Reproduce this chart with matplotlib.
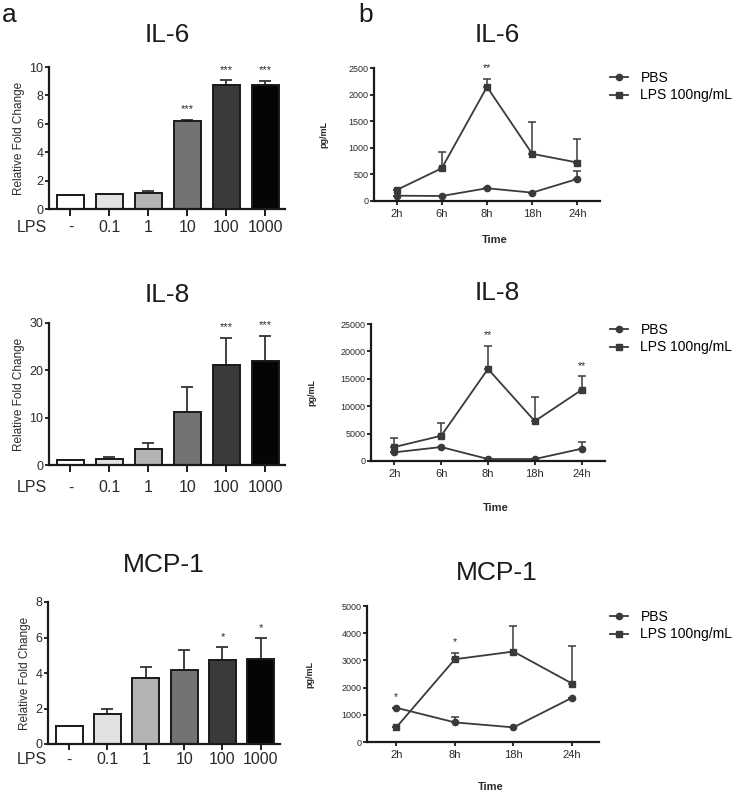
import numpy as np
import matplotlib
matplotlib.use("Agg")
import matplotlib.pyplot as plt
from matplotlib.lines import Line2D
from matplotlib.transforms import blended_transform_factory

plt.rcParams["font.family"] = ["Liberation Sans", "DejaVu Sans"]

W, H = 745, 793

# panel a: relative fold change vs LPS dose
doses = ["-", "0.1", "1", "10", "100", "1000"]
bar_colors = ["#ffffff", "#e2e2e2", "#b4b4b4", "#737373", "#3a3a3a", "#050505"]

il6_fold = [1.0, 1.05, 1.1, 6.2, 8.7, 8.7]
il6_fold_err = [0.0, 0.02, 0.2, 0.05, 0.35, 0.3]
il6_stars = ["", "", "", "***", "***", "***"]

il8_fold = [1.0, 1.3, 3.3, 11.2, 21.2, 22.0]
il8_fold_err = [0.0, 0.35, 1.3, 5.2, 5.6, 5.3]
il8_stars = ["", "", "", "", "***", "***"]

mcp1_fold = [1.0, 1.7, 3.7, 4.15, 4.75, 4.8]
mcp1_fold_err = [0.0, 0.3, 0.65, 1.15, 0.7, 1.15]
mcp1_stars = ["", "", "", "", "*", "*"]

# panel b: secreted protein over time
times5 = ["2h", "6h", "8h", "18h", "24h"]
times4 = ["2h", "8h", "18h", "24h"]

il6_pbs = [100, 94, 240, 157, 415]
il6_pbs_err = [0, 0, 0, 0, 150]
il6_lps = [207, 616, 2145, 887, 723]
il6_lps_err = [0, 310, 155, 600, 435]
il6_time_stars = ["", "", "**", "", ""]

il8_pbs = [1580, 2550, 360, 360, 2240]
il8_pbs_err = [0, 0, 0, 0, 1150]
il8_lps = [2550, 4600, 16800, 7270, 12970]
il8_lps_err = [1650, 2400, 4200, 4500, 2500]
il8_time_stars = ["", "", "**", "", "**"]

mcp1_pbs = [1259, 721, 538, 1626]
mcp1_pbs_err = [0, 185, 0, 0]
mcp1_lps = [538, 3044, 3325, 2150]
mcp1_lps_err = [0, 230, 930, 1370]
mcp1_time_stars = ["*", "*", "", ""]

fig = plt.figure(figsize=(W / 100, H / 100), dpi=100)
TXT = "#2a2a2a"
LINE = "#3a3a3a"


def px_axes(left, top, right, bottom):
    return fig.add_axes([left / W, 1 - bottom / H, (right - left) / W, (bottom - top) / H])


def style(ax, ysize):
    for s in ["top", "right"]:
        ax.spines[s].set_visible(False)
    for s in ["left", "bottom"]:
        ax.spines[s].set_linewidth(1.6)
        ax.spines[s].set_color("#1a1a1a")
    ax.tick_params(axis="y", labelsize=ysize, colors=TXT, width=1.4, length=3, pad=1)


def bar_panel(box, vals, errs, stars, ymax, step, title, title_y, lab_y, tick_len=5):
    ax = px_axes(*box)
    x = np.arange(len(doses))
    ax.bar(x, vals, width=0.7, color=bar_colors, edgecolor="#1a1a1a", linewidth=1.4, zorder=2)
    ax.errorbar(x, vals, yerr=[np.zeros(len(errs)), errs], fmt="none", ecolor="#333333",
                elinewidth=1.3, capsize=4, capthick=1.3, zorder=1)
    for xi, v, e, s in zip(x, vals, errs, stars):
        if s:
            ax.text(xi, v + e + ymax * 0.04, s, ha="center", va="bottom", fontsize=8, color=TXT)
    ax.set_xlim(-0.55, 5.5)
    ax.set_ylim(0, ymax)
    ax.set_yticks(np.arange(0, ymax + 0.1, step))
    ax.set_xticks(x)
    ax.set_xticklabels([])
    style(ax, 9)
    ax.tick_params(axis="x", width=1.4, length=tick_len, colors="#1a1a1a")
    ax.set_ylabel("Relative Fold Change", fontsize=8.5, color=TXT, labelpad=3)
    ly = -(lab_y - box[3]) / (box[3] - box[1])
    tr = blended_transform_factory(ax.transData, ax.transAxes)
    for xi, d in zip(x, doses):
        ax.text(xi, ly, d, transform=tr, ha="center", va="center", fontsize=11.5, color=TXT)
    ax.text((32 - box[0]) / (box[2] - box[0]), ly, "LPS",
            transform=ax.transAxes, ha="center", va="center", fontsize=11.5, color=TXT)
    fig.text((box[0] + box[2]) / 2 / W, 1 - title_y / H, title, ha="center", va="center",
             fontsize=19, color="#1a1a1a")
    return ax


def line_panel(box, labels, pbs, pbs_err, lps, lps_err, stars, ymax, step, title, title_y,
               xlim_hi, leg_y, ylabel_x, time_y):
    ax = px_axes(*box)
    x = np.arange(len(labels))
    ax.errorbar(x, pbs, yerr=[np.zeros(len(pbs)), pbs_err], color=LINE, lw=1.3,
                marker="o", ms=4.5, capsize=3, capthick=1.1, elinewidth=1.1)
    ax.errorbar(x, lps, yerr=[np.zeros(len(lps)), lps_err], color=LINE, lw=1.3,
                marker="s", ms=4.5, capsize=3, capthick=1.1, elinewidth=1.1)
    for xi, v1, e1, v2, e2, s in zip(x, pbs, pbs_err, lps, lps_err, stars):
        if s:
            top = max(v1 + e1, v2 + e2)
            ax.text(xi, top + ymax * 0.04, s, ha="center", va="bottom", fontsize=7.5, color=TXT)
    ax.set_xlim(-0.5, xlim_hi)
    ax.set_ylim(0, ymax)
    ax.set_yticks(np.arange(0, ymax + 1, step))
    ax.set_xticks(x)
    ax.set_xticklabels(labels)
    style(ax, 6.5)
    ax.tick_params(axis="x", labelsize=8, colors=TXT, width=1.4, length=3, pad=3)
    fig.text(ylabel_x / W, 1 - (box[1] + box[3]) / 2 / H, "pg/mL", rotation=90, ha="center",
             va="center", fontsize=6.5, fontweight="bold", color=TXT)
    fig.text((box[0] + box[2]) / 2 / W + 0.01, 1 - time_y / H, "Time", ha="center",
             va="center", fontsize=8, fontweight="bold", color=TXT)
    fig.text(497 / W, 1 - title_y / H, title, ha="center", va="center", fontsize=19,
             color="#1a1a1a")
    handles = [Line2D([], [], color=LINE, lw=1.3, marker="o", ms=4.5),
               Line2D([], [], color=LINE, lw=1.3, marker="s", ms=4.5)]
    ax.legend(handles, ["PBS", "LPS 100ng/mL"], loc="upper left",
              bbox_to_anchor=(603 / W, 1 - leg_y / H),
              bbox_transform=fig.transFigure, frameon=False, fontsize=10,
              handlelength=1.3, handletextpad=0.9, labelspacing=0.25, borderpad=0)
    return ax


bar_panel((49, 67, 285, 209), il6_fold, il6_fold_err, il6_stars, 10, 2, "IL-6", 35, 227)
bar_panel((49, 323, 285, 465), il8_fold, il8_fold_err, il8_stars, 30, 10, "IL-8", 295, 488)
bar_panel((48, 602, 280, 744), mcp1_fold, mcp1_fold_err, mcp1_stars, 8, 2, "MCP-1", 565, 760,
          tick_len=4)

line_panel((374, 68, 600, 201), times5, il6_pbs, il6_pbs_err, il6_lps, il6_lps_err,
           il6_time_stars, 2500, 500, "IL-6", 35, 4.5, 64, 324, 240)
line_panel((371, 324, 605, 461), times5, il8_pbs, il8_pbs_err, il8_lps, il8_lps_err,
           il8_time_stars, 25000, 5000, "IL-8", 293, 4.5, 316, 312, 508)
line_panel((367, 606, 599, 742), times4, mcp1_pbs, mcp1_pbs_err, mcp1_lps, mcp1_lps_err,
           mcp1_time_stars, 5000, 1000, "MCP-1", 573, 3.46, 603, 310, 787)

fig.text(9 / W, 1 - 15 / H, "a", ha="center", va="center", fontsize=19, color="#1a1a1a")
fig.text(366 / W, 1 - 15 / H, "b", ha="center", va="center", fontsize=19, color="#1a1a1a")

fig.savefig("out.png", dpi=100)
